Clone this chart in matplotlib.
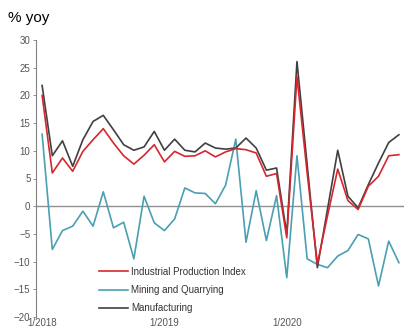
import numpy as np
import matplotlib
matplotlib.use("Agg")
import matplotlib.pyplot as plt

# monthly, 1/2018 .. 12/2020, % yoy
ipi = [20.0, 6.0, 8.7, 6.3, 9.9, 12.0, 14.0, 11.4, 9.1, 7.6, 9.2, 11.1,
       8.0, 9.9, 9.0, 9.1, 10.0, 8.9, 9.8, 10.4, 10.2, 9.6, 5.4, 5.9,
       -5.7, 23.4, 6.0, -10.4, -1.7, 6.7, 1.0, -0.6, 3.6, 5.4, 9.1, 9.3]
mining = [13.0, -7.8, -4.4, -3.6, -0.9, -3.6, 2.6, -3.9, -2.9, -9.5, 1.8, -3.0,
          -4.4, -2.3, 3.3, 2.4, 2.3, 0.45, 3.8, 12.1, -6.5, 2.8, -6.2, 1.9,
          -12.9, 9.1, -9.5, -10.5, -11.1, -9.0, -8.0, -5.1, -5.9, -14.4, -6.3, -10.2]
manu = [21.8, 9.1, 11.8, 7.2, 12.0, 15.3, 16.4, 13.8, 11.1, 10.1, 10.7, 13.5,
        10.1, 12.1, 10.1, 9.8, 11.4, 10.5, 10.3, 10.5, 12.3, 10.5, 6.5, 6.9,
        -5.0, 26.1, 7.5, -11.1, -0.5, 10.1, 1.8, -0.3, 3.9, 7.8, 11.5, 12.9]
tick_labels = ["1/2018", "1/2019", "1/2020"]

plt.rcParams['font.family'] = ['Liberation Sans Narrow', 'Liberation Sans', 'DejaVu Sans']

x = np.arange(len(ipi))

fig = plt.figure(figsize=(4.04, 3.29), dpi=100)
ax = fig.add_axes([36 / 404, 1 - 317 / 329, 1 - 36 / 404, (317 - 40) / 329])

ax.axhline(0, color="#909090", lw=1.0, zorder=1)
ax.plot(x, ipi, color="#d7262e", lw=1.2, label="Industrial Production Index", zorder=3)
ax.plot(x, mining, color="#4a9fb3", lw=1.2, label="Mining and Quarrying", zorder=2)
ax.plot(x, manu, color="#404040", lw=1.2, label="Manufacturing", zorder=2)

ax.set_xlim(-0.6, 35.5)
ax.set_ylim(-20, 30)
ax.set_yticks(range(-20, 31, 5))
ax.set_xticks([0, 12, 24])
ax.set_xticklabels(tick_labels)

for s in ["top", "right", "bottom"]:
    ax.spines[s].set_visible(False)
ax.spines["left"].set_color("#808080")
ax.spines["left"].set_linewidth(0.8)
ax.tick_params(axis="y", length=2, width=0.6, color="#808080", labelsize=7,
               labelcolor="#555555", pad=2)
ax.tick_params(axis="x", length=0, labelsize=7, labelcolor="#555555", pad=1)

fig.text(8 / 404, 1 - 18 / 329, "% yoy", fontsize=11, va="center", ha="left",
         family=["Liberation Sans", "DejaVu Sans"])

ax.legend(loc="lower left", bbox_to_anchor=(54 / 368, -0.018), frameon=False,
          fontsize=7, handlelength=3.0, handletextpad=0.3, labelspacing=0.85,
          labelcolor="#333333")

fig.savefig("out.png", dpi=100)
